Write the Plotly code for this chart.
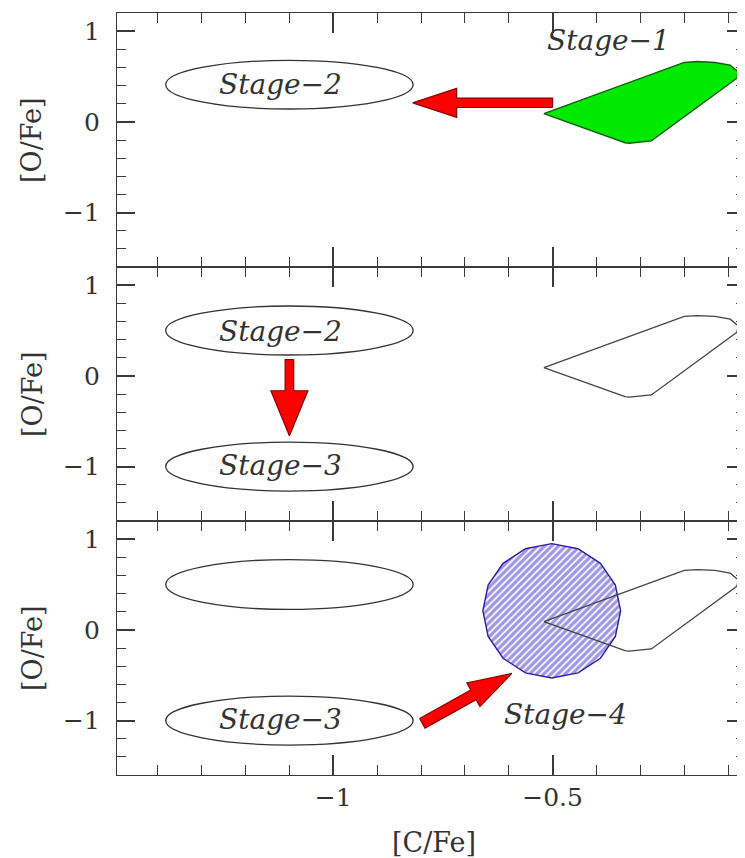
import plotly.graph_objects as go
from plotly.subplots import make_subplots

# ------------------------------------------------------------------ data
X_RANGE = [-1.493, -0.0615]
Y_RANGE = [-1.6, 1.2]
X_TICKS = [-1.0, -0.5]
X_TICK_TEXT = ["−1", "−0.5"]
X_MINOR = [-1.4, -1.3, -1.2, -1.1, -0.9, -0.8, -0.7, -0.6, -0.4, -0.3, -0.2, -0.1]
Y_TICKS = [-1, 0, 1]
Y_TICK_TEXT = ["−1", "0", "1"]
Y_MINOR = [-1.6, -1.4, -1.2, -0.8, -0.6, -0.4, -0.2, 0.2, 0.4, 0.6, 0.8, 1.2]
X_TITLE = "[C/Fe]"
Y_TITLE = "[O/Fe]"

# Stage-1 region outline ([C/Fe], [O/Fe])
stage1_x = [-0.52, -0.20, -0.17, -0.13, -0.095, -0.077, -0.08, -0.275, -0.325, -0.335]
stage1_y = [0.09, 0.655, 0.665, 0.655, 0.625, 0.55, 0.48, -0.21, -0.235, -0.23]

# Stage-4 region outline (hatched disc)
stage4_x = [-0.345, -0.357, -0.391, -0.442, -0.502, -0.562, -0.613, -0.647,
            -0.659, -0.647, -0.613, -0.562, -0.502, -0.442, -0.391, -0.357]
stage4_y = [0.21, 0.493, 0.733, 0.894, 0.95, 0.894, 0.733, 0.493,
            0.21, -0.073, -0.313, -0.474, -0.53, -0.474, -0.313, -0.073]

# Ellipses: panel row, centre x, centre y, half-width, half-height
ell_row = [1, 2, 2, 3, 3]
ell_cx = [-1.10, -1.10, -1.10, -1.10, -1.10]
ell_cy = [0.41, 0.50, -1.00, 0.50, -1.00]
ell_a = [0.282, 0.282, 0.282, 0.282, 0.282]
ell_b = [0.268, 0.27, 0.27, 0.275, 0.27]

# Arrows: panel row, tail (x, y), tip (x, y)
arr_row = [1, 2, 3]
arr_x0 = [-0.50, -1.10, -0.797]
arr_y0 = [0.21, 0.18, -1.03]
arr_x1 = [-0.819, -1.10, -0.593]
arr_y1 = [0.21, -0.66, -0.48]

# Stage labels: panel row, text, x, y
lab_row = [1, 1, 2, 2, 3, 3]
lab_text = ["Stage−1", "Stage−2", "Stage−2", "Stage−3", "Stage−3", "Stage−4"]
lab_x = [-0.373, -1.12, -1.12, -1.12, -1.12, -0.47]
lab_y = [0.90, 0.415, 0.49, -0.99, -0.99, -0.93]

# ------------------------------------------------------------------ style
PAGE = 8                       # browser body margin around the figure
W, H = 745 - PAGE, 858 - PAGE
M_L, M_R, M_T, M_B = 117 - PAGE, 0, 13 - PAGE, 83
PLOT_W = W - M_L - M_R
PLOT_H = H - M_T - M_B
PANEL_H = PLOT_H / 3.0
FONT = "DejaVu Serif"
FRAME = "#3a3a3a"
TEXT = "#333333"
# arrow sizes in pixels: head length, head half-width, shaft half-width
arr_head_len = [44, 45, 44]
arr_head_hw = [14.5, 18.5, 13.5]
arr_shaft_hw = [4.7, 4.3, 5.5]

fig = make_subplots(rows=3, cols=1, shared_xaxes=True, vertical_spacing=0)

for r in (1, 2, 3):
    if r == 3:
        fig.add_trace(go.Scatter(
            x=stage4_x + stage4_x[:1], y=stage4_y + stage4_y[:1],
            mode="lines", fill="toself",
            fillcolor="white",
            fillpattern=dict(shape="/", fgcolor="#4a38c4", bgcolor="#f4f2ff",
                             size=5, solidity=0.6),
            line=dict(color="#2e1f9e", width=1.4),
            hoverinfo="skip", showlegend=False), row=3, col=1)
    if r == 1:
        fig.add_trace(go.Scatter(
            x=stage1_x + stage1_x[:1], y=stage1_y + stage1_y[:1],
            mode="lines", fill="toself", fillcolor="#00ea00",
            line=dict(color="#125c12", width=1.4),
            hoverinfo="skip", showlegend=False), row=1, col=1)
    else:
        fig.add_trace(go.Scatter(
            x=stage1_x + stage1_x[:1], y=stage1_y + stage1_y[:1],
            mode="lines", line=dict(color="#444444", width=1.3),
            hoverinfo="skip", showlegend=False), row=r, col=1)

# arrows built in pixel space from tail/tip data, mapped back to data units
sx = PLOT_W / (X_RANGE[1] - X_RANGE[0])
sy = PANEL_H / (Y_RANGE[1] - Y_RANGE[0])
for i, r in enumerate(arr_row):
    px0, py0 = arr_x0[i] * sx, arr_y0[i] * sy
    px1, py1 = arr_x1[i] * sx, arr_y1[i] * sy
    L = ((px1 - px0) ** 2 + (py1 - py0) ** 2) ** 0.5
    dx, dy = (px1 - px0) / L, (py1 - py0) / L
    nx, ny = -dy, dx
    bx, by = px1 - dx * arr_head_len[i], py1 - dy * arr_head_len[i]
    sw, hw = arr_shaft_hw[i], arr_head_hw[i]
    pts = [(px0 + nx * sw, py0 + ny * sw), (bx + nx * sw, by + ny * sw),
           (bx + nx * hw, by + ny * hw), (px1, py1),
           (bx - nx * hw, by - ny * hw), (bx - nx * sw, by - ny * sw),
           (px0 - nx * sw, py0 - ny * sw), (px0 + nx * sw, py0 + ny * sw)]
    fig.add_trace(go.Scatter(
        x=[p[0] / sx for p in pts], y=[p[1] / sy for p in pts],
        mode="lines", fill="toself", fillcolor="#ff0000",
        line=dict(color="#8a0000", width=1.2),
        hoverinfo="skip", showlegend=False), row=r, col=1)

for i, r in enumerate(ell_row):
    fig.add_shape(type="circle", x0=ell_cx[i] - ell_a[i], x1=ell_cx[i] + ell_a[i],
                  y0=ell_cy[i] - ell_b[i], y1=ell_cy[i] + ell_b[i],
                  line=dict(color="#333333", width=1.3), row=r, col=1)

for i, r in enumerate(lab_row):
    sfx = "" if r == 1 else str(r)
    fig.add_annotation(text="<i>" + lab_text[i] + "</i>", x=lab_x[i], y=lab_y[i],
                       xref="x" + sfx, yref="y" + sfx, showarrow=False,
                       xanchor="center", yanchor="middle",
                       font=dict(family=FONT, size=28, color=TEXT))

for r in (1, 2, 3):
    fig.add_annotation(text=Y_TITLE, xref="paper", yref="paper",
                       x=(32 - PAGE - M_L) / PLOT_W, y=(3 - r + 0.5) / 3.0,
                       textangle=-90, showarrow=False,
                       xanchor="center", yanchor="middle",
                       font=dict(family=FONT, size=27, color=TEXT))
fig.add_annotation(text=X_TITLE, xref="paper", yref="paper",
                   x=(434 - PAGE - M_L) / PLOT_W,
                   y=-(843 - PAGE - (H - M_B)) / PLOT_H,
                   showarrow=False, xanchor="center", yanchor="middle",
                   font=dict(family=FONT, size=27, color=TEXT))

common = dict(showline=True, linewidth=1.4, linecolor=FRAME, mirror="ticks",
              ticks="inside", showgrid=False, zeroline=False,
              tickcolor=FRAME, tickwidth=1.5,
              tickfont=dict(family=FONT, size=25, color=TEXT))
fig.update_xaxes(range=X_RANGE, tickmode="array", tickvals=X_TICKS,
                 ticktext=X_TICK_TEXT, ticklen=20, ticklabelstandoff=0,
                 minor=dict(ticks="inside", tickmode="array", tickvals=X_MINOR,
                            ticklen=10, tickwidth=1.3, tickcolor=FRAME),
                 **common)
fig.update_yaxes(range=Y_RANGE, tickmode="array", tickvals=Y_TICKS,
                 ticktext=Y_TICK_TEXT, ticklen=18, ticklabelstandoff=11,
                 minor=dict(ticks="inside", tickmode="array", tickvals=Y_MINOR,
                            ticklen=9, tickwidth=1.3, tickcolor=FRAME),
                 **common)

fig.update_layout(width=W, height=H,
                  margin=dict(l=M_L, r=M_R, t=M_T, b=M_B, pad=0),
                  paper_bgcolor="white", plot_bgcolor="white",
                  showlegend=False)

fig.write_html("out.html")
